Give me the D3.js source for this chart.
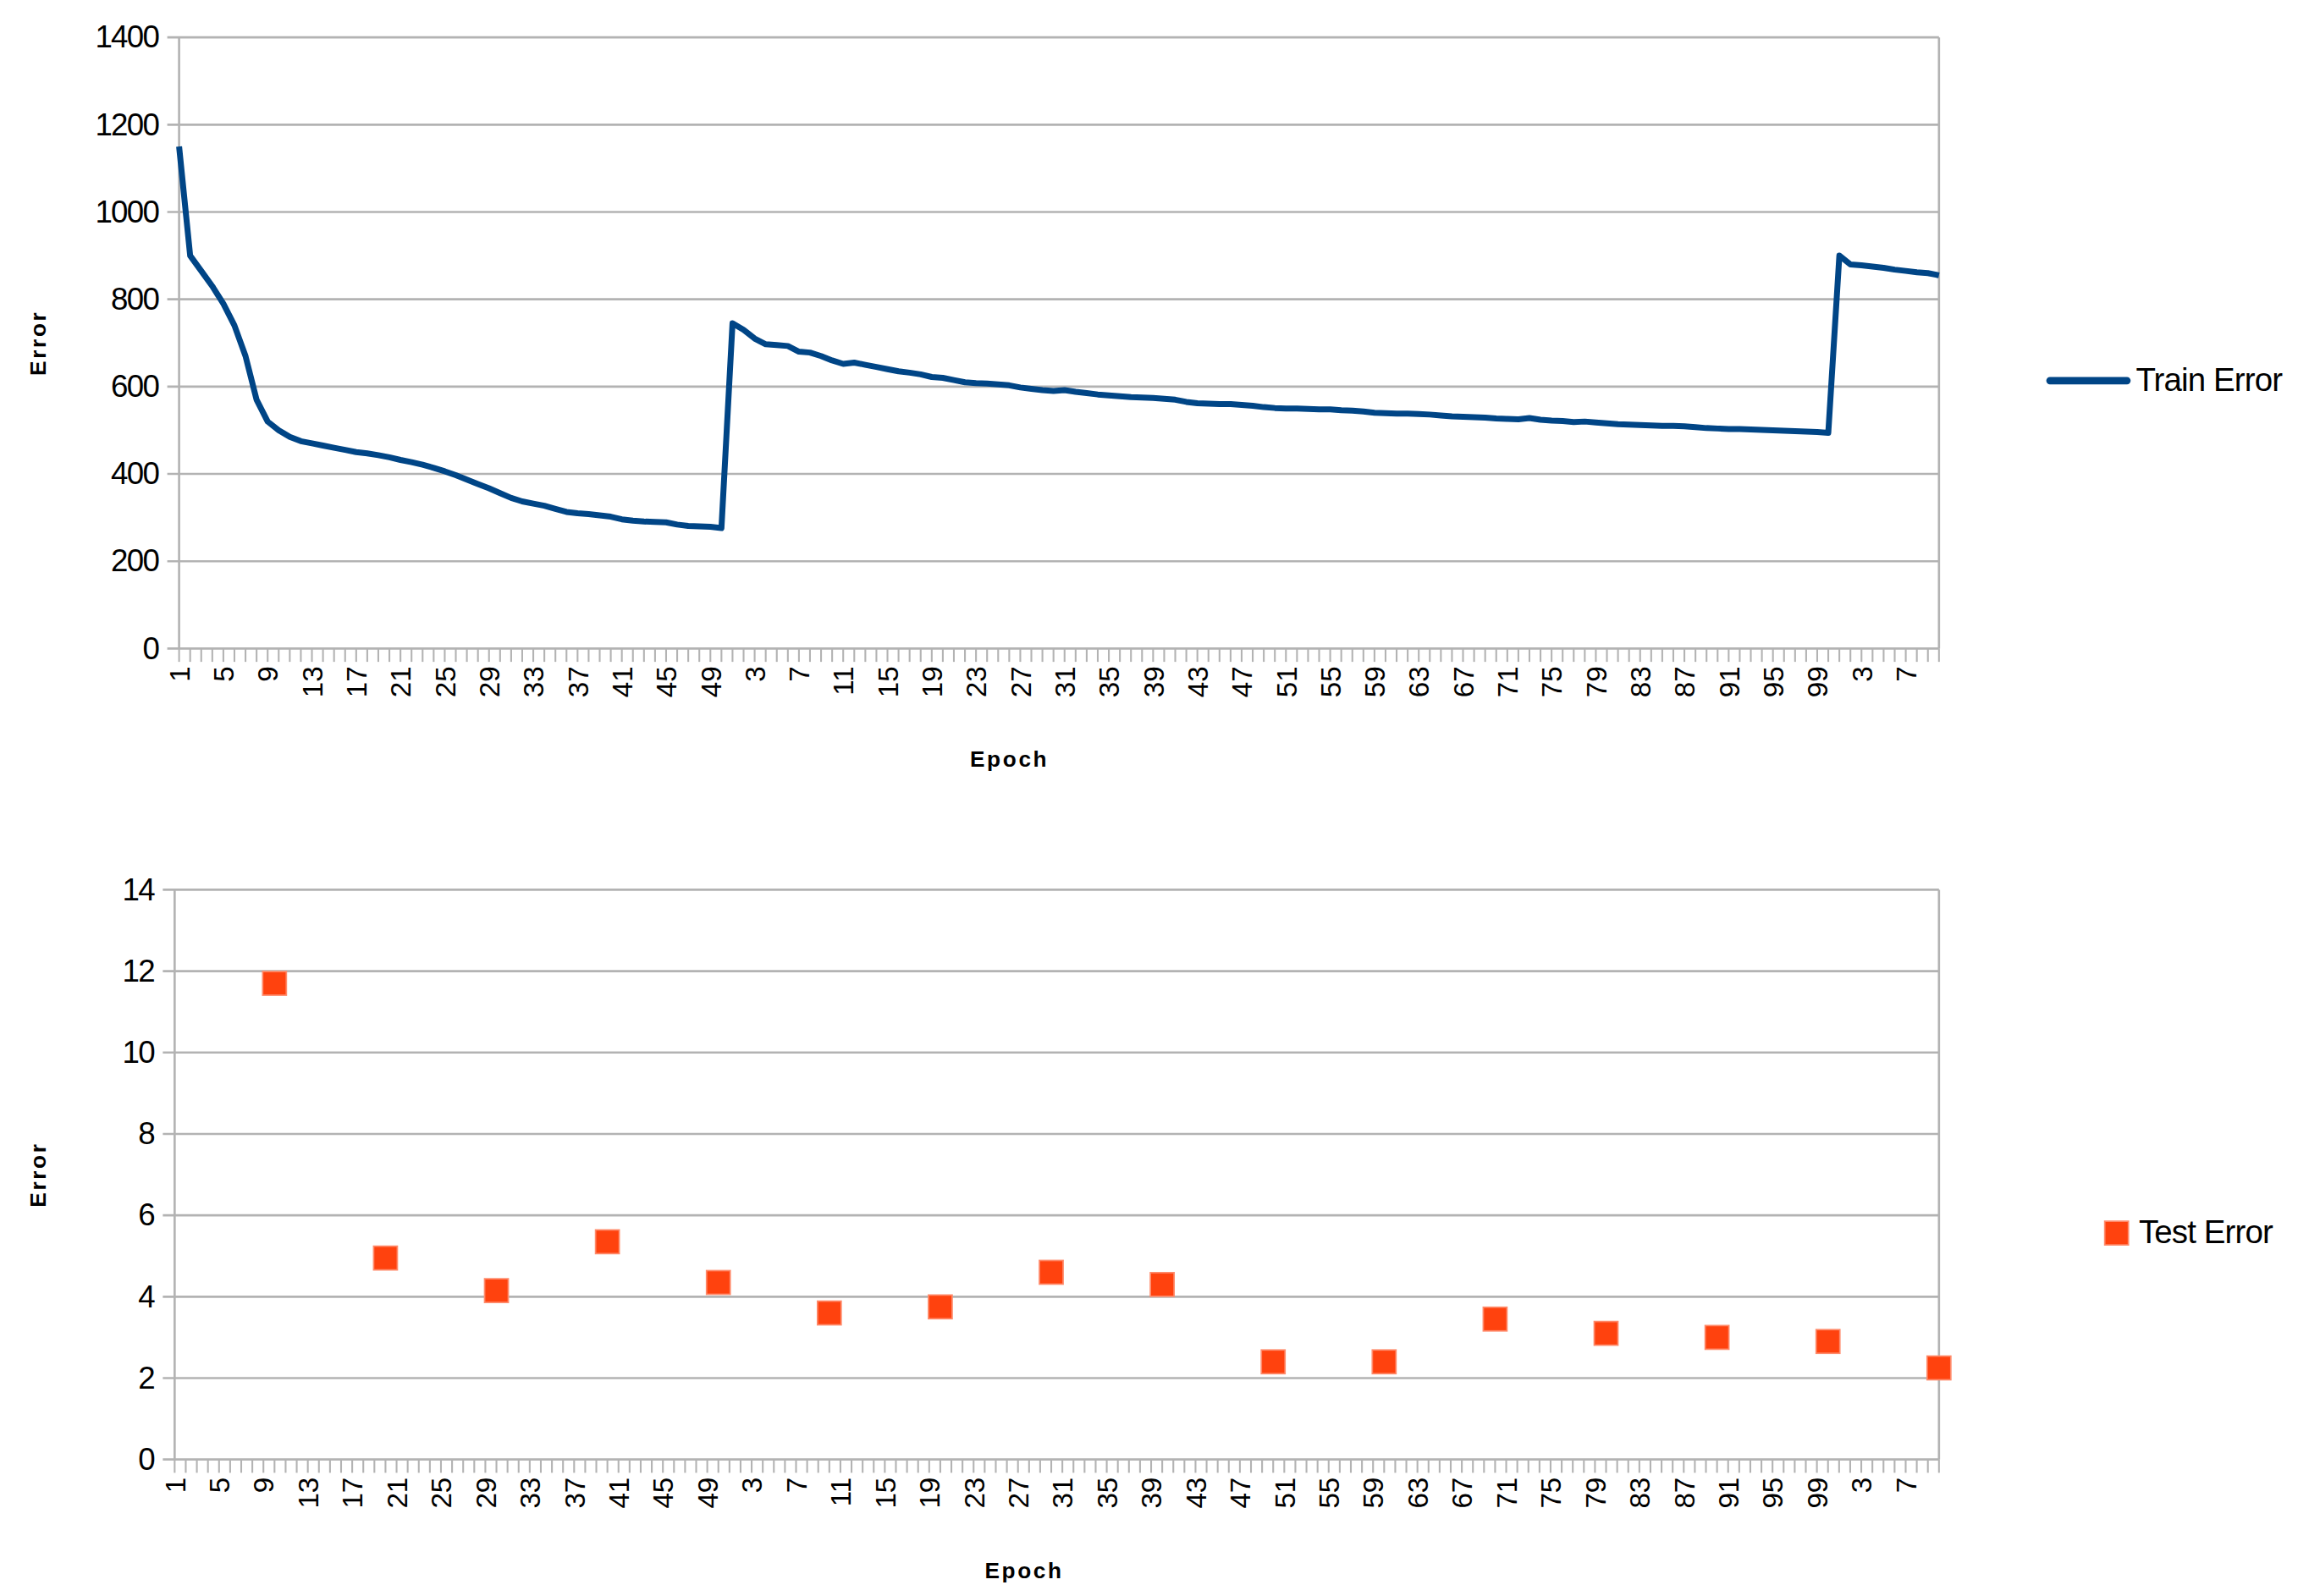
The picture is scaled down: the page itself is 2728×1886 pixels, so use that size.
<!DOCTYPE html>
<html>
<head>
<meta charset="utf-8">
<script src="https://cdn.jsdelivr.net/npm/d3@7"></script>
<style>
  body { margin: 0; background: #fff; }
  text { font-family: "Liberation Sans", Arial, sans-serif; fill: #000; }
</style>
</head>
<body>
<script>
// epochs restart three times: 50, 100 and 10 epochs
var segmentLengths = [50, 100, 10];

var trainError = [
  1150, 900, 865, 830, 790, 740, 670, 570, 520, 500,
  485, 475, 470, 465, 460, 455, 450, 447, 443, 438,
  432, 427, 421, 414, 406, 397, 387, 377, 367, 356,
  345, 337, 332, 327, 320, 313, 310, 308, 305, 302,
  296, 293, 291, 290, 289, 284, 281, 280, 279, 276,
  745, 730, 710, 697, 695, 693, 680, 678, 670, 660,
  652, 655, 650, 645, 640, 635, 632, 628, 622, 620,
  615, 610, 608, 607, 605, 603, 598, 595, 592, 590,
  592, 588, 585, 582, 580, 578, 576, 575, 574, 572,
  570, 565, 562, 561, 560, 560, 558, 556, 553, 551,
  550, 550, 549, 548, 548, 546, 545, 543, 540, 539,
  538, 538, 537, 536, 534, 532, 531, 530, 529, 527,
  526, 525, 528, 524, 522, 521, 519, 520, 518, 516,
  514, 513, 512, 511, 510, 510, 509, 507, 505, 504,
  503, 503, 502, 501, 500, 499, 498, 497, 496, 494,
  900, 880, 878, 875, 872, 868, 865, 862, 860, 855
];

var testEpochIdx = [10, 20, 30, 40, 50, 60, 70, 80, 90, 100, 110, 120, 130, 140, 150, 160];
var testError = [11.7, 4.95, 4.15, 5.35, 4.35, 3.6, 3.75, 4.6, 4.3, 2.4, 2.4, 3.45, 3.1, 3.0, 2.9, 2.25];

var trainTicks = [0, 200, 400, 600, 800, 1000, 1200, 1400];
var testTicks = [0, 2, 4, 6, 8, 10, 12, 14];

// category labels: epoch number inside its segment
var categories = [];
segmentLengths.forEach(function(n) {
  for (var e = 1; e <= n; e++) categories.push(e);
});

var svg = d3.select('body').append('svg')
  .attr('width', 2728).attr('height', 1886)
  .attr('viewBox', '0 0 1560 1078');

function drawPanel(o) {
  var x = d3.scaleLinear().domain([1, categories.length]).range([o.left, o.right]),
      y = d3.scaleLinear().domain(o.domain).range([o.bottom, o.top]),
      g = svg.append('g');

  g.selectAll('line.grid').data(o.ticks).enter().append('line')
    .attr('x1', o.left - 8).attr('x2', o.right)
    .attr('y1', y).attr('y2', y)
    .attr('stroke', '#b3b3b3').attr('stroke-width', 1.5);

  g.append('line').attr('x1', o.left).attr('x2', o.left)
    .attr('y1', o.top).attr('y2', o.bottom)
    .attr('stroke', '#b3b3b3').attr('stroke-width', 1.5);
  g.append('line').attr('x1', o.right).attr('x2', o.right)
    .attr('y1', o.top).attr('y2', o.bottom)
    .attr('stroke', '#b3b3b3').attr('stroke-width', 1.5);

  g.selectAll('text.ytick').data(o.ticks).enter().append('text')
    .attr('x', o.left - 14).attr('y', function(d) { return y(d) + 7; })
    .attr('text-anchor', 'end').attr('font-size', 21)
    .attr('letter-spacing', -1)
    .text(function(d) { return d; });

  // category tick marks
  g.selectAll('line.xtick').data(d3.range(1, categories.length + 1)).enter().append('line')
    .attr('x1', x).attr('x2', x)
    .attr('y1', o.bottom).attr('y2', o.bottom + 9)
    .attr('stroke', '#b3b3b3').attr('stroke-width', 1.2);

  g.selectAll('text.xtick').data(d3.range(1, categories.length + 1, 4)).enter().append('text')
    .attr('transform', function(i) {
      return 'translate(' + (x(i) + 7) + ',' + (o.bottom + 12) + ') rotate(-90)';
    })
    .attr('text-anchor', 'end').attr('font-size', 19)
    .text(function(i) { return categories[i - 1]; });

  g.append('text')
    .attr('transform', 'translate(' + 31 + ',' + ((o.top + o.bottom) / 2) + ') rotate(-90)')
    .attr('text-anchor', 'middle').attr('font-size', 15).attr('font-weight', 'bold')
    .attr('letter-spacing', 1.5).text('Error');
  g.append('text')
    .attr('x', o.epochX).attr('y', o.bottom + 80)
    .attr('text-anchor', 'middle').attr('font-size', 15).attr('font-weight', 'bold')
    .attr('letter-spacing', 1.5).text('Epoch');

  return { g: g, x: x, y: y };
}

var trainPanel = drawPanel({ left: 121, right: 1310, top: 25, bottom: 438, domain: [0, 1400], ticks: trainTicks, epochX: 682 });
var line = d3.line()
  .x(function(d, i) { return trainPanel.x(i + 1); })
  .y(function(d) { return trainPanel.y(d); });
trainPanel.g.append('path').datum(trainError)
  .attr('d', line).attr('fill', 'none')
  .attr('stroke', '#004586').attr('stroke-width', 4).attr('stroke-linejoin', 'round');
trainPanel.g.append('line').attr('x1', 1385).attr('x2', 1437).attr('y1', 257).attr('y2', 257)
  .attr('stroke', '#004586').attr('stroke-width', 5).attr('stroke-linecap', 'round');
trainPanel.g.append('text').attr('x', 1443).attr('y', 264).attr('font-size', 22)
  .attr('letter-spacing', -0.5).text('Train Error');

var testPanel = drawPanel({ left: 118, right: 1310, top: 601, bottom: 986, domain: [0, 14], ticks: testTicks, epochX: 692 });
testPanel.g.selectAll('rect.pt').data(testError).enter().append('rect')
  .attr('x', function(d, i) { return testPanel.x(testEpochIdx[i]) - 8; })
  .attr('y', function(d) { return testPanel.y(d) - 8; })
  .attr('width', 16).attr('height', 16)
  .attr('fill', '#ff420e').attr('stroke', '#ff8a6a').attr('stroke-width', 1);
testPanel.g.append('rect').attr('x', 1422).attr('y', 825).attr('width', 16).attr('height', 16)
  .attr('fill', '#ff420e').attr('stroke', '#ff8a6a').attr('stroke-width', 1);
testPanel.g.append('text').attr('x', 1445).attr('y', 840).attr('font-size', 22)
  .attr('letter-spacing', -0.5).text('Test Error');
</script>
</body>
</html>
